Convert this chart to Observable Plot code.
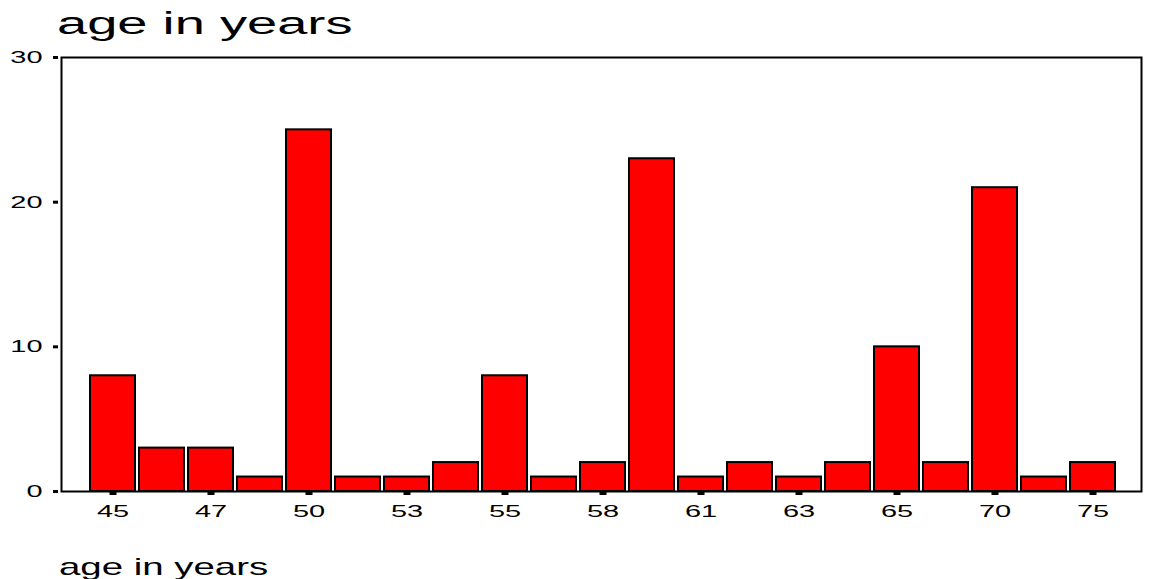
<!DOCTYPE html>
<html><head><meta charset="utf-8">
<script src="https://cdn.jsdelivr.net/npm/d3@7"></script>
<script src="https://cdn.jsdelivr.net/npm/@observablehq/plot@0.6"></script>
<style>
body{margin:0;background:#fff;font-family:"Liberation Sans",Arial,sans-serif;color:#000;}
#title{height:45px;box-sizing:border-box;padding-top:8px;margin-left:57px;font-size:31px;line-height:31px;}
#title span,#caption span{display:inline-block;transform-origin:left center;white-space:nowrap;}
#title span{transform:scaleX(1.75);}
#caption{height:34px;box-sizing:border-box;padding-top:10px;margin-left:59px;font-size:24px;line-height:24px;}
#caption span{transform:scaleX(1.6);}
#chart svg{display:block;}
</style></head><body>
<div id="title"><span>age in years</span></div>
<div id="chart"></div>
<div id="caption"><span>age in years</span></div>
<script>
const ages = ["45","46","47","48","50","52","53","54","55","56","58","60","61","62","63","64","65","67","70","72","75"];
const counts = [8,3,3,1,25,1,1,2,8,1,2,23,1,2,1,2,10,2,21,1,2];
const tickAges = ["45","47","50","53","55","58","61","63","65","70","75"];
const yTicks = [0,10,20,30];
const data = ages.map((a,i)=>({age:a,count:counts[i]}));

const chart = Plot.plot({
  width:1149, height:500,
  marginTop:12, marginBottom:54, marginLeft:61, marginRight:8,
  style:{fontFamily:"Liberation Sans, Arial, sans-serif", fontSize:"17px", color:"#000", background:"#fff", overflow:"visible"},
  x:{type:"band", domain:ages, range:[88,1118], paddingInner:0.08, paddingOuter:0, label:null},
  y:{domain:[0,30], label:null},
  marks:[
    Plot.barY(data,{x:"age", y:"count", fill:"#ff0000", stroke:"#000", strokeWidth:2}),
    Plot.frame({stroke:"#000", strokeWidth:2}),
    Plot.axisY({ticks:yTicks, tickSize:5, tickPadding:11, dx:-3, strokeWidth:3, label:null, fontSize:17}),
    Plot.axisX({ticks:tickAges, tickSize:4, tickPadding:9, strokeWidth:7, label:null, fontSize:17})
  ]
});
document.getElementById("chart").append(chart);
chart.querySelectorAll('g[aria-label="x-axis tick label"] text, g[aria-label="y-axis tick label"] text').forEach(t=>{
  const w = t.getComputedTextLength();
  t.setAttribute("textLength", (w*1.7).toFixed(1));
  t.setAttribute("lengthAdjust","spacingAndGlyphs");
});
</script>
</body></html>
